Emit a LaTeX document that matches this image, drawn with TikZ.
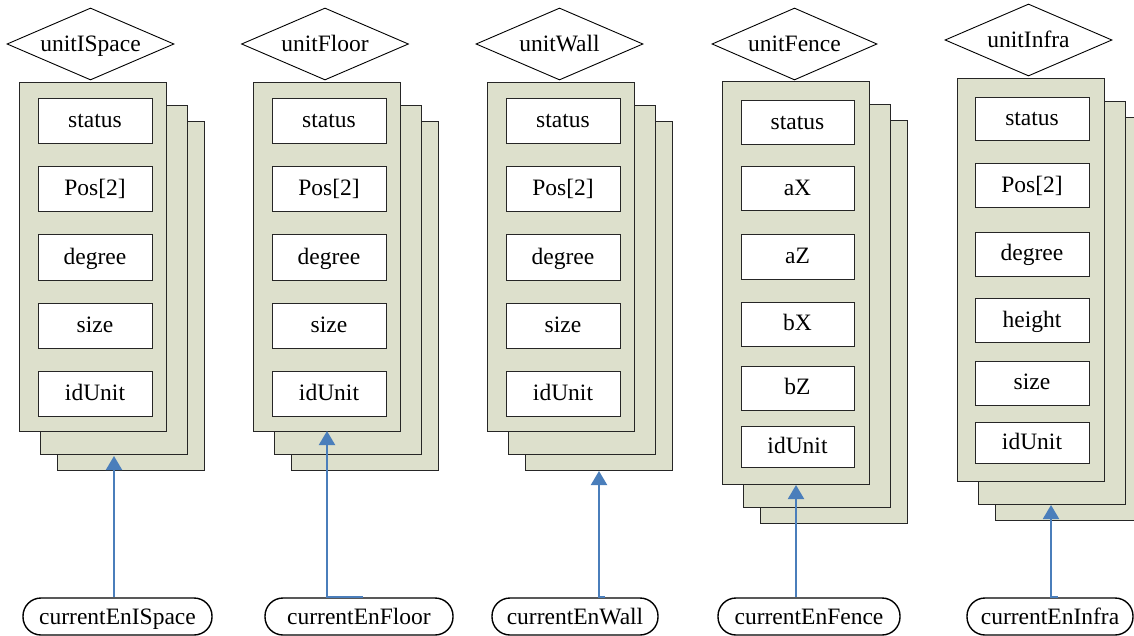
\documentclass[tikz,border=0pt]{standalone}
\usepackage{fontspec}
\setmainfont{Liberation Serif}
\usetikzlibrary{shapes.geometric,arrows.meta}
\definecolor{panelfill}{RGB}{221,224,204}
\definecolor{linkblue}{RGB}{74,126,187}

% three stacked record sheets: #1 = left of front sheet, #2 = top, #3 = height
\newcommand{\unitstack}[3]{%
  \path[panel] (#1+38,#2+39) rectangle ++(147,#3);
  \path[panel] (#1+21,#2+23) rectangle ++(147,#3);
  \path[panel] (#1,#2) rectangle ++(147,#3);}

\begin{document}
\begin{tikzpicture}[x=1pt,y=-1pt,
  every node/.style={font=\fontsize{23.5}{28}\selectfont,text height=15pt,text depth=0pt},
  panel/.style={draw=black!85,line width=1pt,fill=panelfill},
  field/.style={draw=black!85,line width=1pt,fill=white,minimum width=114pt,
                minimum height=45pt,inner sep=0pt,text height=13pt},
  tag/.style={diamond,draw,line width=0.9pt,aspect=2.3,inner sep=0pt,
              minimum width=167pt,minimum height=72pt},
  source/.style={draw,line width=1.4pt,rounded corners=18pt,minimum height=37pt,inner sep=0pt},
  link/.style={draw=linkblue,line width=2pt,-{Triangle[length=14pt,width=16pt]}}]

\clip (0,0) rectangle (1134,636);

% ---------------- unitISpace ----------------
\node[tag] (d1) at (90.5,44) {unitISpace};
\unitstack{19}{83}{348}
\node[field] (f1a) at (95,121.5) {status};
\node[field] (f1b) at (95,189.5) {Pos[2]};
\node[field] (f1c) at (95,257.5) {degree};
\node[field] (f1d) at (95,325.5) {size};
\node[field] (f1e) at (95,393.5) {idUnit};
\node[source,minimum width=189pt] (t1) at (117.5,616.5) {currentEnISpace};
\coordinate (tip1) at (114,456);

% ---------------- unitFloor ----------------
\node[tag] (d2) at (325,44) {unitFloor};
\unitstack{253}{83}{348}
\node[field] (f2a) at (329,121.5) {status};
\node[field] (f2b) at (329,189.5) {Pos[2]};
\node[field] (f2c) at (329,257.5) {degree};
\node[field] (f2d) at (329,325.5) {size};
\node[field] (f2e) at (329,393.5) {idUnit};
\node[source,minimum width=188pt] (t2) at (359,616.5) {currentEnFloor};
\coordinate (tip2) at (327,431);

% ---------------- unitWall ----------------
\node[tag] (d3) at (559.5,44) {unitWall};
\unitstack{487}{83}{348}
\node[field] (f3a) at (563,121.5) {status};
\node[field] (f3b) at (563,189.5) {Pos[2]};
\node[field] (f3c) at (563,257.5) {degree};
\node[field] (f3d) at (563,325.5) {size};
\node[field] (f3e) at (563,393.5) {idUnit};
\node[source,minimum width=166pt] (t3) at (575,616.5) {currentEnWall};
\coordinate (tip3) at (599,471);

% ---------------- unitFence ----------------
\node[tag,minimum width=165pt] (d4) at (794.5,44) {unitFence};
\unitstack{722}{82}{402}
\node[field,minimum width=113pt,minimum height=44pt] (f4a) at (797.5,123) {status};
\node[field,minimum width=113pt,minimum height=44pt] (f4b) at (797.5,189) {aX};
\node[field,minimum width=113pt,minimum height=44pt] (f4c) at (797.5,257) {aZ};
\node[field,minimum width=113pt,minimum height=44pt] (f4d) at (797.5,324) {bX};
\node[field,minimum width=113pt,minimum height=44pt] (f4e) at (797.5,388) {bZ};
\node[field,minimum width=113pt,minimum height=41pt] (f4f) at (797.5,446.5) {idUnit};
\node[source,minimum width=182pt] (t4) at (809,616.5) {currentEnFence};
\coordinate (tip4) at (796,485);

% ---------------- unitInfra ----------------
\node[tag] (d5) at (1028.5,40) {unitInfra};
\unitstack{957}{79}{402}
\node[field,minimum height=43pt] (f5a) at (1032,119.5) {status};
\node[field,minimum height=44pt] (f5b) at (1032,186) {Pos[2]};
\node[field,minimum height=44pt] (f5c) at (1032,254.5) {degree};
\node[field,minimum height=44pt] (f5d) at (1032,320.5) {height};
\node[field,minimum height=44pt] (f5e) at (1032,383) {size};
\node[field,minimum height=41pt] (f5f) at (1032,443) {idUnit};
\node[source,minimum width=166pt] (t5) at (1050,616.5) {currentEnInfra};
\coordinate (tip5) at (1051,505);

% ---------------- links from the current-entity terminals ----------------
\draw[link] (t1.north -| tip1) -- (tip1);
\draw[link] ([xshift=4pt]t2.north) -| (tip2);
\draw[link] ([xshift=30pt]t3.north) -| (tip3);
\draw[link] (t4.north -| tip4) -- (tip4);
\draw[link] ([xshift=8pt]t5.north) -| (tip5);
\end{tikzpicture}
\end{document}
